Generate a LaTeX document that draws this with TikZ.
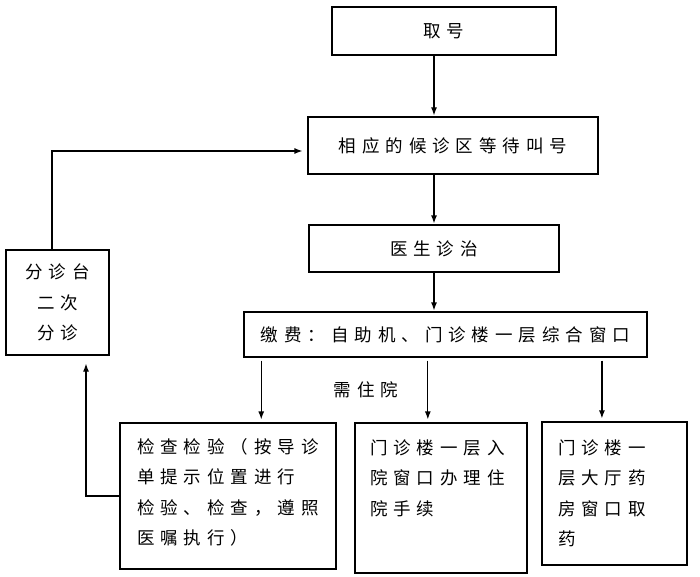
\documentclass[tikz,border=0pt]{standalone}
\usepackage{fontspec}
\newfontfamily\cjk[LetterSpace=34]{Noto Sans CJK SC}
\usetikzlibrary{arrows.meta,calc}
\newcommand\tbox[5]{\parbox[c][#2][t]{#1}{\setlength\leftskip{#4}\setlength\parindent{0pt}\vspace*{#3}\noindent #5}}
\begin{document}
\begin{tikzpicture}[x=1pt,y=-1pt,
  every node/.style={font=\cjk\fontsize{17.5pt}{30.5pt}\selectfont, text=black},
  box/.style={draw=black, line width=1.2pt, inner sep=0pt},
  arr/.style={draw=black, line width=1.2pt, -{Latex[length=8pt,width=6pt]}, shorten >=1pt}]
\useasboundingbox (0,0) rectangle (700,577);
\node[box, minimum width=224pt, minimum height=48pt] (qh) at (444,31) {取号};
\node[box, minimum width=290pt, minimum height=57pt] (hz) at (453,145.5) {相应的候诊区等待叫号};
\node[box, minimum width=250pt, minimum height=47pt] (ys) at (434,248.5) {医生诊治};
\node[box, minimum width=403pt, minimum height=45pt] (jf) at (445.5,334.5) {缴费：自助机、门诊楼一层综合窗口};
\node[box, minimum width=103pt, minimum height=105pt, align=center] (fz) at (57.5,302.5) {分诊台\\二次\\分诊};
\node[box] (jc) at (228,496) {\tbox{216pt}{146pt}{15.3pt}{17pt}{检查检验（按导诊\\单提示位置进行\\检验、检查，遵照\\医嘱执行）}};
\node[box] (zy) at (441,498) {\tbox{172pt}{150pt}{16.3pt}{15pt}{门诊楼一层入\\院窗口办理住\\院手续}};
\node[box] (qy) at (614.5,493.5) {\tbox{145pt}{143pt}{17.3pt}{16pt}{门诊楼一\\层大厅药\\房窗口取\\药}};
\node (lbl) at (366,390) {需住院};
\draw[arr] (qh.south -| ys.center) -- (hz.north -| ys.center);
\draw[arr] (hz.south -| ys.center) -- (ys.north);
\draw[arr] (ys.south) -- (jf.north -| ys.center);
\coordinate (t1) at ($(jc.north west)!0.653!(jc.north east)$);
\coordinate (t2) at ($(zy.north west)!0.424!(zy.north east)$);
\coordinate (t3) at ($(qy.north west)!0.414!(qy.north east)$);
\draw[arr, shorten <=3pt, shorten >=3pt] (jf.south -| t1) -- (t1);
\draw[arr, shorten <=3pt, shorten >=3pt] (jf.south -| t2) -- (t2);
\draw[arr, shorten <=3pt, shorten >=3pt] (jf.south -| t3) -- (t3);
\draw[arr, shorten >=5pt] ($(fz.north)+(-5.5,0)$) |- ($(hz.west)+(0,5.5)$);
\draw[arr, shorten >=8pt] (jc.west) -| ($(fz.south)+(28.5,0)$);
\end{tikzpicture}
\end{document}
